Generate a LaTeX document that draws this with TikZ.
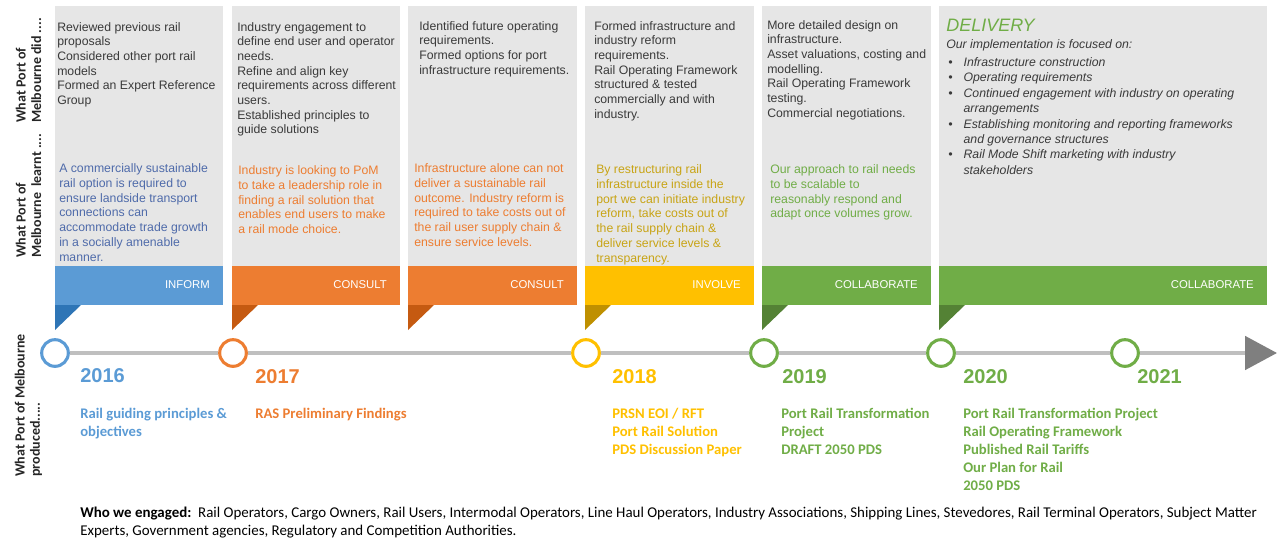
\documentclass[tikz,border=0pt]{standalone}
\usepackage{fontspec}
\setmainfont{Liberation Sans}
\newfontfamily\calfont{Carlito}
\usetikzlibrary{positioning,arrows.meta}

\definecolor{pomgrey}{HTML}{E6E6E6}
\definecolor{pomtext}{HTML}{3A3A3A}
\definecolor{pomline}{HTML}{BFBFBF}
\definecolor{pomarrow}{HTML}{7F7F7F}
\definecolor{pomblue}{HTML}{5B9BD5}
\definecolor{pombluedk}{HTML}{2E75B6}
\definecolor{pomblueink}{HTML}{4F6BAA}
\definecolor{pomorange}{HTML}{ED7D31}
\definecolor{pomorangedk}{HTML}{C55A11}
\definecolor{pomyellow}{HTML}{FFC000}
\definecolor{pomyellowdk}{HTML}{BF9000}
\definecolor{pomyellowink}{HTML}{C8A415}
\definecolor{pomgreen}{HTML}{70AD47}
\definecolor{pomgreendk}{HTML}{548235}

\tikzset{
  did/.style={align=left,inner sep=0pt,anchor=north west,text=pomtext,font=\fontsize{9.2}{11}\selectfont},
  learnt/.style={align=left,inner sep=0pt,anchor=north west,font=\fontsize{9.2}{11.2}\selectfont},
  phase/.style={inner sep=0pt,anchor=east,text=white,font=\fontsize{8.5}{10}\selectfont},
  stop/.style={circle,draw,fill=white,line width=2.3pt,minimum size=20pt,inner sep=0pt},
  year/.style={inner sep=0pt,anchor=west,font=\bfseries\fontsize{15}{18}\selectfont},
  made/.style={align=left,inner sep=0pt,anchor=north west,font=\calfont\bfseries\fontsize{11}{13.5}\selectfont},
  side/.style={rotate=90,anchor=west,align=left,inner sep=0pt,text=black!85,font=\calfont\bfseries\fontsize{10.5}{11.5}\selectfont},
  timeline/.style={draw=pomline,line width=3pt}
}

\begin{document}
\begin{tikzpicture}[x=0.75pt,y=-0.75pt]
  \useasboundingbox (0,0) rectangle (1278,542);

  % side headings
  \node[side] (Hdid) at (28.5,123) {What Port of\\Melbourne did ....};%
  \node[side] (Hlearnt) at (28.5,258) {What Port of\\Melbourne\ \ learnt ....};%
  \node[side] (Hmade) at (28.5,477) {What Port of Melbourne\\produced.....};%

  % cards
  \fill[pomgrey] (55,6) rectangle (223,266);%
  \fill[pomblue] (55,266) rectangle (223,305);%
  \fill[pombluedk] (55,305) -- (81,305) -- (55,330) -- cycle;%

  \fill[pomgrey] (232,6) rectangle (400,266);%
  \fill[pomorange] (232,266) rectangle (400,305);%
  \fill[pomorangedk] (232,305) -- (258,305) -- (232,330) -- cycle;%

  \fill[pomgrey] (408,6) rectangle (577,266);%
  \fill[pomorange] (408,266) rectangle (577,305);%
  \fill[pomorangedk] (408,305) -- (434,305) -- (408,330) -- cycle;%

  \fill[pomgrey] (585,6) rectangle (754,266);%
  \fill[pomyellow] (585,266) rectangle (754,305);%
  \fill[pomyellowdk] (585,305) -- (611,305) -- (585,330) -- cycle;%

  \fill[pomgrey] (762,6) rectangle (931,266);%
  \fill[pomgreen] (762,266) rectangle (931,305);%
  \fill[pomgreendk] (762,305) -- (788,305) -- (762,330) -- cycle;%

  \fill[pomgrey] (939,6) rectangle (1267,266);%
  \fill[pomgreen] (939,266) rectangle (1267,305);%
  \fill[pomgreendk] (939,305) -- (965,305) -- (939,330) -- cycle;%

  % what was done
  \node[did] (D1) at (57,22) {Reviewed previous rail\\proposals\\Considered other port rail\\models\\Formed an Expert Reference\\Group};%
  \node[did] (D2) at (237,22) {Industry engagement to\\define end user and operator\\needs.\\Refine and align key\\requirements across different\\users.\\Established principles to\\guide solutions};%
  \node[did] (D3) at (419,21) {Identified future operating\\requirements.\\Formed options for port\\infrastructure requirements.};%
  \node[did] (D4) at (594,21) {Formed infrastructure and\\industry reform\\requirements.\\Rail Operating Framework\\structured \& tested\\commercially and with\\industry.};%
  \node[did] (D5) at (767,20) {More detailed design on\\infrastructure.\\Asset valuations, costing and\\modelling.\\Rail Operating Framework\\testing.\\Commercial negotiations.};%

  \node[inner sep=0pt,anchor=base west,text=pomgreen,font=\itshape\fontsize{13.5}{16}\selectfont] (Dhead) at (946,32) {DELIVERY};%
  \node[did,font=\itshape\fontsize{9.2}{11.6}\selectfont] (D6) at (946,39) {Our implementation is focused on:\\[1.9pt]
    \makebox[13pt][l]{\,\textbullet}Infrastructure construction\\
    \makebox[13pt][l]{\,\textbullet}Operating requirements\\
    \makebox[13pt][l]{\,\textbullet}Continued engagement with industry on operating\\
    \hspace*{13pt}arrangements\\
    \makebox[13pt][l]{\,\textbullet}Establishing monitoring and reporting frameworks\\
    \hspace*{13pt}and governance structures\\
    \makebox[13pt][l]{\,\textbullet}Rail Mode Shift marketing with industry\\
    \hspace*{13pt}stakeholders};%

  % what was learnt
  \node[learnt,text=pomblueink] (L1) at (59,163) {A commercially sustainable\\rail option is required to\\ensure landside transport\\connections can\\accommodate trade growth\\in a socially amenable\\manner.};%
  \node[learnt,text=pomorange] (L2) at (238,165) {Industry is looking to PoM\\to take a leadership role in\\finding a rail solution that\\enables end users to make\\a rail mode choice.};%
  \node[learnt,text=pomorange] (L3) at (414,163) {Infrastructure alone can not\\deliver a sustainable rail\\outcome. Industry reform is\\required to take costs out of\\the rail user supply chain \&\\ensure service levels.};%
  \node[learnt,text=pomyellowink] (L4) at (596,164) {By restructuring rail\\infrastructure inside the\\port we can initiate industry\\reform, take costs out of\\the rail supply chain \&\\deliver service levels \&\\transparency.};%
  \node[learnt,text=pomgreen] (L5) at (770,164) {Our approach to rail needs\\to be scalable to\\reasonably respond and\\adapt once volumes grow.};%

  % engagement level
  \node[phase] (P1) at (210,285) {INFORM};%
  \node[phase] (P2) at (387,285) {CONSULT};%
  \node[phase] (P3) at (564,285) {CONSULT};%
  \node[phase] (P4) at (741,285) {INVOLVE};%
  \node[phase] (P5) at (918,285) {COLLABORATE};%
  \node[phase] (P6) at (1254,285) {COLLABORATE};%

  % timeline
  \node[stop,draw=pomblue] (S16) at (55,353) {};%
  \node[stop,draw=pomorange] (S17) at (233,353) {};%
  \node[stop,draw=pomyellow] (S18) at (586,353) {};%
  \node[stop,draw=pomgreen] (S19) at (764,353) {};%
  \node[stop,draw=pomgreen] (S20) at (941,353) {};%
  \node[stop,draw=pomgreen] (S21) at (1125,353) {};%
  \coordinate (tip) at (1277,353);%

  \draw[timeline] (S16) -- (S17);%
  \draw[timeline] (S17) -- (S18);%
  \draw[timeline] (S18) -- (S19);%
  \draw[timeline] (S19) -- (S20);%
  \draw[timeline] (S20) -- (S21);%
  \draw[timeline,-{Triangle[length=24pt,width=25pt,color=pomarrow]}] (S21) -- (tip);%

  \node[year,text=pomblue] (Y16) at (80,376) {2016};%
  \node[year,text=pomorange] (Y17) at (255,377) {2017};%
  \node[year,text=pomyellow] (Y18) at (612,377) {2018};%
  \node[year,text=pomgreen] (Y19) at (782,377) {2019};%
  \node[year,text=pomgreen] (Y20) at (963,377) {2020};%
  \node[year,text=pomgreen] (Y21) at (1137,377) {2021};%

  % what was produced
  \node[made,text=pomblue] (M16) at (80,408) {Rail guiding principles \&\\objectives};%
  \node[made,text=pomorange] (M17) at (255,408) {RAS Preliminary Findings};%
  \node[made,text=pomyellow] (M18) at (612,408) {PRSN EOI / RFT\\Port Rail Solution\\PDS Discussion Paper};%
  \node[made,text=pomgreen] (M19) at (781,408) {Port Rail Transformation\\Project\\DRAFT 2050 PDS};%
  \node[made,text=pomgreen] (M20) at (963,408) {Port Rail Transformation Project\\Rail Operating Framework\\Published Rail Tariffs\\Our Plan for Rail\\2050 PDS};%

  % who we engaged
  \node[align=left,inner sep=0pt,anchor=north west,font=\calfont\fontsize{11.2}{13.5}\selectfont] (W) at (80,507) {\textbf{Who we engaged:}\ \ Rail Operators, Cargo Owners, Rail Users, Intermodal Operators, Line Haul Operators, Industry Associations, Shipping Lines, Stevedores, Rail Terminal Operators, Subject Matter\\Experts, Government agencies, Regulatory and Competition Authorities.};%
\end{tikzpicture}
\end{document}
